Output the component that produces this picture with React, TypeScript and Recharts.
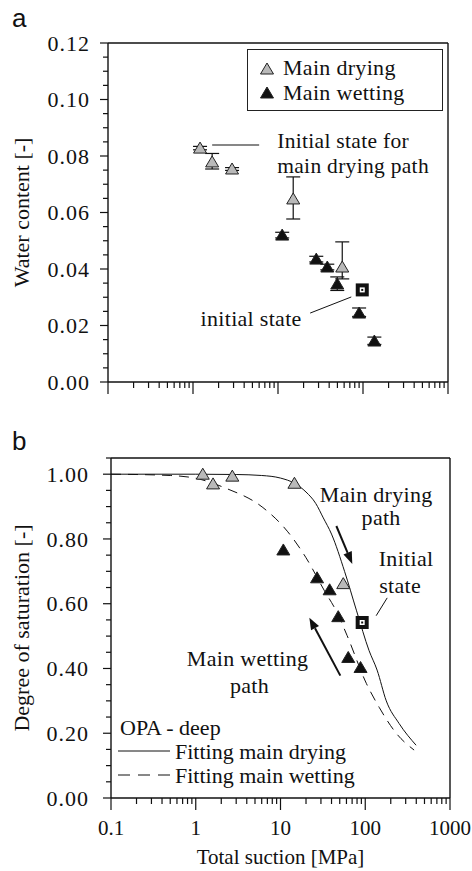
import React from 'react';
import { ComposedChart, Scatter, Line, XAxis, YAxis, ErrorBar, ReferenceLine, ReferenceDot } from 'recharts';

const SERIF = '"Liberation Serif", "Times New Roman", serif';
const SANS = '"Liberation Sans", Arial, sans-serif';

// (a) water content vs total suction [MPa]
const dryA_suction = [1.21, 1.68, 2.88, 15.1, 57];
const dryA_water = [0.0828, 0.0779, 0.0754, 0.0648, 0.0407];
const dryA_errLow = [0.0006, 0.0025, 0.0005, 0.0071, 0.0042];
const dryA_errHigh = [0.0006, 0.003, 0.0005, 0.0078, 0.0089];

const wetA_suction = [11.2, 28.2, 38, 49.8, 90, 136];
const wetA_water = [0.052, 0.0435, 0.0407, 0.0347, 0.0244, 0.0145];
const wetA_errLow = [0.001, 0.001, 0.001, 0.0023, 0.0012, 0.0012];
const wetA_errHigh = [0.001, 0.001, 0.001, 0.0025, 0.0018, 0.0014];

const initA_suction = [98];
const initA_water = [0.0326];

// (b) degree of saturation vs total suction [MPa]
const dryB_suction = [1.21, 1.6, 2.7, 14.6, 55];
const dryB_sat = [1.0, 0.97, 0.994, 0.972, 0.662];

const wetB_suction = [10.8, 27, 38, 48, 63, 88];
const wetB_sat = [0.766, 0.68, 0.643, 0.56, 0.434, 0.403];

const initB_suction = [92];
const initB_sat = [0.542];

const fitDry_suction = [0.1, 1, 3, 6, 10, 14.6, 20, 26, 32, 40, 57, 79, 111, 138, 177, 251, 398];
const fitDry_sat = [1.0, 1.0, 0.999, 0.996, 0.988, 0.972, 0.945, 0.91, 0.865, 0.815, 0.7, 0.578, 0.455, 0.395, 0.3, 0.23, 0.163];

const fitWet_suction = [0.1, 0.5, 1.1, 2.2, 6.2, 12.2, 20, 33, 46, 61, 103, 146, 232, 377];
const fitWet_sat = [1.0, 0.996, 0.985, 0.958, 0.897, 0.822, 0.742, 0.64, 0.575, 0.502, 0.354, 0.28, 0.2, 0.148];

// axes
const decades = [0.1, 1, 10, 100, 1000];
const decadeLabels = ['0.1', '1', '10', '100', '1000'];
const minorSteps = [2, 3, 4, 5, 6, 7, 8, 9];
const suctionTicks = decades.flatMap((d, i) => (i < decades.length - 1 ? [d, ...minorSteps.map((m) => d * m)] : [d]));

const waterMajor = [0, 0.02, 0.04, 0.06, 0.08, 0.1, 0.12];
const waterTicks = Array.from({ length: 25 }, (_, i) => +(i * 0.005).toFixed(3));
const satMajor = [0, 0.2, 0.4, 0.6, 0.8, 1.0];
const satTicks = Array.from({ length: 22 }, (_, i) => +(i * 0.05).toFixed(2));

const rows = (xs: number[], ys: number[], lo?: number[], hi?: number[]) =>
  xs.map((s, i) => ({ s, v: ys[i], err: lo && hi ? [lo[i], hi[i]] : 0 }));

const dryA = rows(dryA_suction, dryA_water, dryA_errLow, dryA_errHigh);
const wetA = rows(wetA_suction, wetA_water, wetA_errLow, wetA_errHigh);
const initA = rows(initA_suction, initA_water);
const dryB = rows(dryB_suction, dryB_sat);
const wetB = rows(wetB_suction, wetB_sat);
const initB = rows(initB_suction, initB_sat);
const fitDry = rows(fitDry_suction, fitDry_sat);
const fitWet = rows(fitWet_suction, fitWet_sat);

const GRAY = '#b9b9b9';
const INK = '#111';
const FS = 22;

function XTick(props: any) {
  const { x, y, payload, labels } = props;
  const i = decades.findIndex((d) => Math.abs(d - payload.value) < 1e-9);
  const major = i >= 0;
  return (
    <g>
      <line x1={x} x2={x} y1={y} y2={y + (major ? 12 : 6)} stroke={INK} strokeWidth={1.2} />
      {labels && major && (
        <text x={x} y={y + 37} textAnchor="middle" fontSize={21} fontFamily={SERIF} fill={INK}>
          {decadeLabels[i]}
        </text>
      )}
    </g>
  );
}

function YTick(props: any) {
  const { x, y, payload, majors, gap } = props;
  const major = majors.some((m: number) => Math.abs(m - payload.value) < 1e-9);
  return (
    <g>
      <line x1={x - (major ? 8 : 5)} x2={x} y1={y} y2={y} stroke={INK} strokeWidth={1.2} />
      {major && (
        <text x={x - gap} y={y} dy="0.35em" textAnchor="end" fontSize={FS} letterSpacing={1} fontFamily={SERIF} fill={INK}>
          {payload.value.toFixed(2)}
        </text>
      )}
    </g>
  );
}

function Tri(props: any) {
  const { cx, cy, fill } = props;
  if (cx == null || cy == null) return null;
  return (
    <polygon
      points={`${cx - 6.5},${cy + 5} ${cx + 6.5},${cy + 5} ${cx},${cy - 6}`}
      fill={fill}
      stroke="#222"
      strokeWidth={1}
    />
  );
}

function InitSquare(props: any) {
  const { cx, cy } = props;
  if (cx == null || cy == null) return null;
  return (
    <g>
      <rect x={cx - 6.5} y={cy - 6.5} width={13} height={13} fill={INK} />
      <rect x={cx - 2.5} y={cy - 2.5} width={5} height={5} fill="#fff" />
      <rect x={cx - 1} y={cy - 1} width={2} height={2} fill={INK} />
    </g>
  );
}

function Arrow(props: any) {
  const { x1, y1, x2, y2 } = props;
  const a = Math.atan2(y2 - y1, x2 - x1);
  const L = 12;
  const W = 4.5;
  const bx = x2 - L * Math.cos(a);
  const by = y2 - L * Math.sin(a);
  return (
    <g>
      <line x1={x1} y1={y1} x2={bx} y2={by} stroke={INK} strokeWidth={2} />
      <polygon
        points={`${x2},${y2} ${bx + W * Math.sin(a)},${by - W * Math.cos(a)} ${bx - W * Math.sin(a)},${by + W * Math.cos(a)}`}
        fill={INK}
      />
    </g>
  );
}

// text anchored at its baseline
function NoteText(props: any) {
  const { cx, cy, text, anchor = 'middle', size = FS } = props;
  if (cx == null || cy == null) return null;
  return (
    <text x={cx} y={cy} textAnchor={anchor} fontSize={size} letterSpacing={0.3} fontFamily={SERIF} fill={INK}>
      {text}
    </text>
  );
}

const note = (x: number, y: number, text: string, anchor = 'middle', size = FS) => (
  <ReferenceDot x={x} y={y} r={0} shape={(p: any) => <NoteText {...p} text={text} anchor={anchor} size={size} />} />
);

function PanelA() {
  return (
    <ComposedChart width={472} height={420} margin={{ top: 43, right: 24, bottom: 0, left: 0 }}>
      <XAxis
        dataKey="s"
        type="number"
        scale="log"
        domain={[0.1, 1000]}
        allowDataOverflow
        ticks={suctionTicks}
        interval={0}
        tickSize={0}
        tickMargin={0}
        tickLine={false}
        tick={<XTick labels={false} />}
        axisLine={{ stroke: INK, strokeWidth: 1.4 }}
        height={38}
      />
      <YAxis
        dataKey="v"
        type="number"
        domain={[0, 0.12]}
        ticks={waterTicks}
        interval={0}
        tickSize={0}
        tickMargin={0}
        tickLine={false}
        tick={<YTick majors={waterMajor} gap={18} />}
        axisLine={{ stroke: INK, strokeWidth: 1.4 }}
        width={108}
        label={{
          value: 'Water content [-]',
          angle: -90,
          position: 'insideLeft',
          offset: 21,
          fill: INK,
          fontSize: FS,
          fontFamily: SERIF,
          style: { textAnchor: 'middle' },
        }}
      />
      <ReferenceLine y={0.12} stroke={INK} strokeWidth={1.4} />
      <ReferenceLine x={1000} stroke={INK} strokeWidth={1.4} />

      <Scatter data={dryA} dataKey="v" isAnimationActive={false} shape={(p: any) => <Tri {...p} fill={GRAY} />}>
        <ErrorBar dataKey="err" direction="y" width={7} stroke={INK} strokeWidth={1.2} />
      </Scatter>
      <Scatter data={wetA} dataKey="v" isAnimationActive={false} shape={(p: any) => <Tri {...p} fill={INK} />}>
        <ErrorBar dataKey="err" direction="y" width={7} stroke={INK} strokeWidth={1.2} />
      </Scatter>
      <Scatter data={initA} dataKey="v" isAnimationActive={false} shape={(p: any) => <InitSquare {...p} />} />

      <ReferenceLine segment={[{ x: 1.68, y: 0.0839 }, { x: 6.0, y: 0.0839 }]} stroke={INK} strokeWidth={1.2} />
      {note(9.8, 0.0828, 'Initial state for', 'start', 21.5)}
      {note(9.8, 0.0740, 'main drying path', 'start', 21.5)}
      <ReferenceLine segment={[{ x: 23.9, y: 0.0244 }, { x: 72.8, y: 0.0301 }]} stroke={INK} strokeWidth={1} />
      {note(4.83, 0.0198, 'initial state')}
    </ComposedChart>
  );
}

function PanelB() {
  return (
    <ComposedChart width={472} height={451} margin={{ top: 38, right: 22, bottom: 0, left: 0 }}>
      <XAxis
        dataKey="s"
        type="number"
        scale="log"
        domain={[0.1, 1000]}
        allowDataOverflow
        ticks={suctionTicks}
        interval={0}
        tickSize={0}
        tickMargin={0}
        tickLine={false}
        tick={<XTick labels />}
        axisLine={{ stroke: INK, strokeWidth: 1.4 }}
        height={73}
        label={{ value: 'Total suction [MPa]', position: 'insideBottom', offset: 7, fill: INK, fontSize: 21, fontFamily: SERIF }}
      />
      <YAxis
        dataKey="v"
        type="number"
        domain={[0, 1.05]}
        ticks={satTicks}
        interval={0}
        tickSize={0}
        tickMargin={0}
        tickLine={false}
        tick={<YTick majors={satMajor} gap={22} />}
        axisLine={{ stroke: INK, strokeWidth: 1.4 }}
        width={111}
        label={{
          value: 'Degree of saturation [-]',
          angle: -90,
          position: 'insideLeft',
          offset: 21,
          fill: INK,
          fontSize: FS,
          fontFamily: SERIF,
          style: { textAnchor: 'middle' },
        }}
      />
      <ReferenceLine y={1.05} stroke={INK} strokeWidth={1.4} />
      <ReferenceLine x={1000} stroke={INK} strokeWidth={1.4} />

      <Line data={fitDry} dataKey="v" type="monotone" stroke={INK} strokeWidth={1} dot={false} isAnimationActive={false} />
      <Line data={fitWet} dataKey="v" type="monotone" stroke={INK} strokeWidth={1} strokeDasharray="10 7" dot={false} isAnimationActive={false} />

      <Scatter data={dryB} dataKey="v" isAnimationActive={false} shape={(p: any) => <Tri {...p} fill={GRAY} />} />
      <Scatter data={wetB} dataKey="v" isAnimationActive={false} shape={(p: any) => <Tri {...p} fill={INK} />} />
      <Scatter data={initB} dataKey="v" isAnimationActive={false} shape={(p: any) => <InitSquare {...p} />} />

      {note(134.6, 0.915, 'Main drying')}
      {note(154, 0.843, 'path')}
      <ReferenceLine segment={[{ x: 45.6, y: 0.84 }, { x: 70.3, y: 0.723 }]} shape={(p: any) => <Arrow {...p} />} />

      {note(303, 0.715, 'Initial')}
      {note(258, 0.632, 'state')}
      <ReferenceLine segment={[{ x: 134.6, y: 0.563 }, { x: 181.5, y: 0.618 }]} stroke={INK} strokeWidth={1} />

      {note(4.09, 0.408, 'Main wetting')}
      {note(4.31, 0.325, 'path')}
      <ReferenceLine segment={[{ x: 50.8, y: 0.378 }, { x: 21.9, y: 0.557 }]} shape={(p: any) => <Arrow {...p} />} />
    </ComposedChart>
  );
}

function Overlay() {
  return (
    <svg width={472} height={871} style={{ position: 'absolute', left: 0, top: 0, pointerEvents: 'none' }}>
      <text x={12} y={27} fontSize={26} fontFamily={SANS} fill={INK}>a</text>
      <text x={12} y={450} fontSize={26} fontFamily={SANS} fill={INK}>b</text>

      <rect x={247.5} y={49.5} width={195} height={61} fill="#fff" stroke="#222" strokeWidth={1} />
      <Tri cx={267} cy={69} fill={GRAY} />
      <text x={283} y={75} fontSize={FS} letterSpacing={0.3} fontFamily={SERIF} fill={INK}>Main drying</text>
      <Tri cx={267} cy={93} fill={INK} />
      <text x={283} y={100} fontSize={FS} letterSpacing={0.3} fontFamily={SERIF} fill={INK}>Main wetting</text>

      <text x={120} y={735} fontSize={FS} fontFamily={SERIF} fill={INK}>OPA - deep</text>
      <line x1={118} x2={170} y1={751} y2={751} stroke={INK} strokeWidth={1} />
      <text x={175} y={759} fontSize={FS} fontFamily={SERIF} fill={INK}>Fitting main drying</text>
      <line x1={118} x2={170} y1={775} y2={775} stroke={INK} strokeWidth={1} strokeDasharray="12 8" />
      <text x={175} y={783} fontSize={FS} fontFamily={SERIF} fill={INK}>Fitting main wetting</text>
    </svg>
  );
}

export default function App() {
  return (
    <div style={{ position: 'absolute', left: 0, top: 0, width: 472, height: 871, background: '#fff', fontFamily: SERIF }}>
      <div style={{ position: 'absolute', left: 0, top: 0 }}>
        <PanelA />
      </div>
      <div style={{ position: 'absolute', left: 0, top: 420 }}>
        <PanelB />
      </div>
      <Overlay />
    </div>
  );
}
